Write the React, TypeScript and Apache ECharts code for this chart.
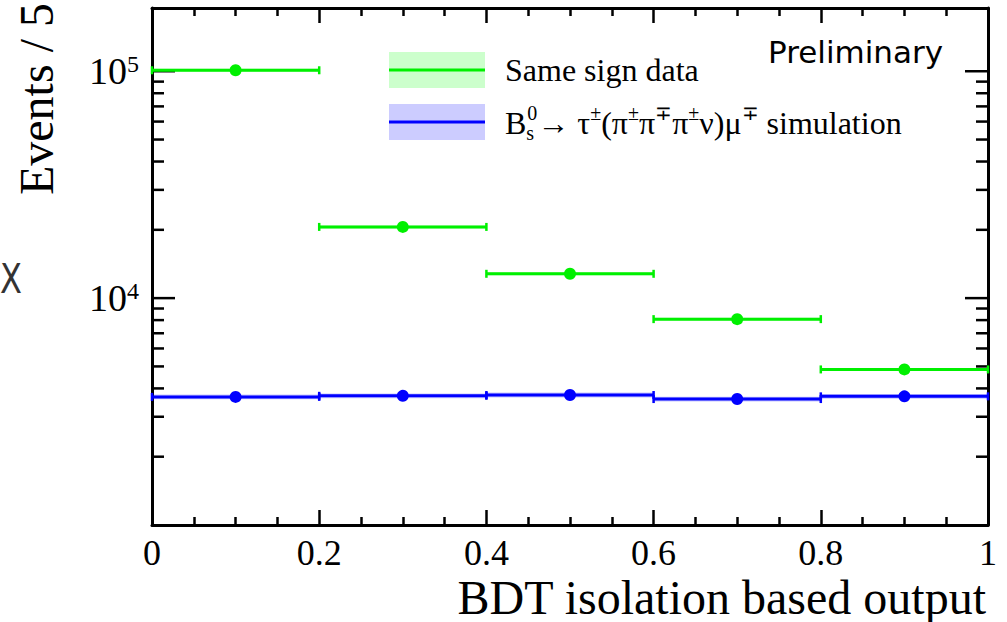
import React, { useEffect, useRef } from 'react';
import * as echarts from 'echarts';

// Histogram binning in BDT output
const BIN_EDGES = [0, 0.2, 0.4, 0.6, 0.8, 1.0];
const BIN_CENTERS = [0.1, 0.3, 0.5, 0.7, 0.9];

// Events per bin
const SAME_SIGN_DATA = [101000, 20600, 12800, 8080, 4850];
const SIMULATION = [3670, 3710, 3740, 3590, 3690];

// Axis ticks and labels
const X_TICK_LABELS = ['0', '0.2', '0.4', '0.6', '0.8', '1'];
const Y_MAJOR_TICKS = [1e4, 1e5];
const Y_MINOR_TICKS = [
  2e3, 3e3, 4e3, 5e3, 6e3, 7e3, 8e3, 9e3,
  2e4, 3e4, 4e4, 5e4, 6e4, 7e4, 8e4, 9e4,
];
const Y_MIN = 1000;
const Y_MAX = 190000;

const GREEN = '#00f000';
const BLUE = '#0000ff';
const SERIF = "'Liberation Serif', 'Times New Roman', serif";
const SANS = "'DejaVu Sans', sans-serif";

function binRows(values: number[]) {
  return values.map((v, i) => [BIN_EDGES[i], BIN_EDGES[i + 1], v]);
}

function makeBinRenderer(color: string, halo: string, haloFrac: number) {
  return (_params: any, api: any) => {
    const lo = api.value(0);
    const hi = api.value(1);
    const v = api.value(2);
    const a = api.coord([lo, v]);
    const b = api.coord([hi, v]);
    const top = api.coord([lo, v * (1 + haloFrac)])[1];
    const bot = api.coord([lo, v / (1 + haloFrac)])[1];
    const cap = 4;
    return {
      type: 'group',
      children: [
        {
          type: 'rect',
          shape: { x: a[0], y: top, width: b[0] - a[0], height: bot - top },
          style: { fill: halo },
        },
        {
          type: 'line',
          shape: { x1: a[0], y1: a[1], x2: b[0], y2: b[1] },
          style: { stroke: color, lineWidth: 3 },
        },
        {
          type: 'line',
          shape: { x1: a[0], y1: a[1] - cap, x2: a[0], y2: a[1] + cap },
          style: { stroke: color, lineWidth: 2.5 },
        },
        {
          type: 'line',
          shape: { x1: b[0], y1: b[1] - cap, x2: b[0], y2: b[1] + cap },
          style: { stroke: color, lineWidth: 2.5 },
        },
      ],
    };
  };
}

function yTickRenderer(_params: any, api: any) {
  const v = api.value(1);
  const major = api.value(2) === 1;
  const len = major ? 23 : 12;
  const l = api.coord([0, v]);
  const r = api.coord([1, v]);
  return {
    type: 'group',
    children: [
      {
        type: 'line',
        shape: { x1: l[0], y1: l[1], x2: l[0] + len, y2: l[1] },
        style: { stroke: '#000', lineWidth: 2.5 },
      },
      {
        type: 'line',
        shape: { x1: r[0] - len, y1: r[1], x2: r[0], y2: r[1] },
        style: { stroke: '#000', lineWidth: 2.5 },
      },
    ],
  };
}

function xAxisConfig(position: 'bottom' | 'top', showLabels: boolean) {
  return {
    type: 'value',
    position,
    min: 0,
    max: 1,
    interval: 0.2,
    axisLine: { show: true, onZero: false, lineStyle: { color: '#000', width: 3 } },
    axisTick: { show: true, inside: true, length: 15, lineStyle: { color: '#000', width: 2.5 } },
    minorTick: { show: true, splitNumber: 4, length: 8, lineStyle: { color: '#000', width: 2.5 } },
    splitLine: { show: false },
    axisLabel: {
      show: showLabels,
      margin: 10,
      color: '#000',
      fontFamily: SERIF,
      fontSize: 36,
      formatter: (v: number) => X_TICK_LABELS[Math.round(v / 0.2)] ?? '',
    },
  };
}

function yAxisConfig(position: 'left' | 'right', showLabels: boolean) {
  return {
    type: 'log',
    logBase: 10,
    position,
    min: Y_MIN,
    max: Y_MAX,
    axisLine: { show: true, onZero: false, lineStyle: { color: '#000', width: 3 } },
    axisTick: { show: false },
    splitLine: { show: false },
    axisLabel: {
      show: showLabels,
      margin: 13,
      formatter: (v: number) => {
        const hit = Y_MAJOR_TICKS.find((t) => Math.abs(t - v) / t < 1e-6);
        if (!hit) return '';
        return `{b|10}{s|${Math.round(Math.log10(hit))}}`;
      },
      rich: {
        b: {
          fontFamily: SERIF,
          fontSize: 38,
          color: '#000',
          lineHeight: 38,
          verticalAlign: 'bottom',
          padding: [8, 0, 0, 0],
        },
        s: {
          fontFamily: SERIF,
          fontSize: 24,
          color: '#000',
          lineHeight: 24,
          verticalAlign: 'top',
        },
      },
    },
  };
}

const legendRich = {
  m: { fontFamily: SERIF, fontSize: 32, fill: '#000', lineHeight: 40 },
  sp: { fontFamily: SERIF, fontSize: 20, fill: '#000', lineHeight: 20, verticalAlign: 'top' },
  sb: { fontFamily: SERIF, fontSize: 20, fill: '#000', lineHeight: 20, verticalAlign: 'bottom', width: 1 },
};

export default function App() {
  const ref = useRef<HTMLDivElement>(null);

  useEffect(() => {
    if (!ref.current) return;
    const chart = echarts.init(ref.current, undefined, { renderer: 'svg' });

    const yTickData = [
      ...Y_MAJOR_TICKS.map((v) => [0, v, 1]),
      ...Y_MINOR_TICKS.map((v) => [0, v, 0]),
    ];

    chart.setOption({
      animation: false,
      backgroundColor: '#fff',
      grid: { left: 152, right: 19, top: 8, bottom: 97, containLabel: false },
      xAxis: [xAxisConfig('bottom', true), xAxisConfig('top', false)],
      yAxis: [yAxisConfig('left', true), yAxisConfig('right', false)],
      series: [
        {
          name: 'y ticks',
          type: 'custom',
          xAxisIndex: 0,
          yAxisIndex: 0,
          silent: true,
          clip: false,
          encode: { x: 0, y: 1 },
          data: yTickData,
          renderItem: yTickRenderer,
          z: 1,
        },
        {
          name: 'simulation bins',
          type: 'custom',
          silent: true,
          encode: { x: [0, 1], y: 2 },
          data: binRows(SIMULATION),
          renderItem: makeBinRenderer(BLUE, 'rgba(0,0,255,0.22)', 0.025),
          z: 2,
        },
        {
          name: 'same sign bins',
          type: 'custom',
          silent: true,
          encode: { x: [0, 1], y: 2 },
          data: binRows(SAME_SIGN_DATA),
          renderItem: makeBinRenderer(GREEN, 'rgba(0,240,0,0.22)', 0.015),
          z: 2,
        },
        {
          name: 'simulation',
          type: 'scatter',
          symbol: 'circle',
          symbolSize: 12,
          silent: true,
          itemStyle: { color: BLUE, opacity: 1 },
          data: BIN_CENTERS.map((x, i) => [x, SIMULATION[i]]),
          z: 3,
        },
        {
          name: 'same sign data',
          type: 'scatter',
          symbol: 'circle',
          symbolSize: 12,
          silent: true,
          itemStyle: { color: GREEN, opacity: 1 },
          data: BIN_CENTERS.map((x, i) => [x, SAME_SIGN_DATA[i]]),
          z: 3,
        },
      ],
      graphic: [
        // legend entries: error band with central line
        { type: 'rect', shape: { x: 389, y: 52, width: 96, height: 36 }, style: { fill: '#ccffcc' }, z: 10 },
        { type: 'line', shape: { x1: 389, y1: 70, x2: 485, y2: 70 }, style: { stroke: GREEN, lineWidth: 3 }, z: 11 },
        { type: 'rect', shape: { x: 389, y: 104, width: 96, height: 36 }, style: { fill: '#ccccff' }, z: 10 },
        { type: 'line', shape: { x1: 389, y1: 122, x2: 485, y2: 122 }, style: { stroke: BLUE, lineWidth: 3 }, z: 11 },
        {
          type: 'text',
          x: 505,
          y: 70,
          z: 11,
          style: {
            text: 'Same sign data',
            fontFamily: SERIF,
            fontSize: 32,
            fill: '#000',
            verticalAlign: 'middle',
          },
        },
        {
          type: 'text',
          x: 505,
          y: 123,
          z: 11,
          style: {
            text:
              '{m|B}{sb|s}{sp|0}{m|→ τ}{sp|±}{m|(π}{sp|±}{m|π}{sp|∓}{m|π}{sp|±}{m|ν)μ}{sp|∓}{m| simulation}',
            verticalAlign: 'middle',
            rich: legendRich,
          },
        },
        {
          type: 'text',
          x: 768,
          y: 52,
          z: 11,
          style: {
            text: 'Preliminary',
            fontFamily: SANS,
            fontSize: 31,
            fill: '#000',
            verticalAlign: 'middle',
          },
        },
        {
          type: 'text',
          x: 36,
          y: 195,
          rotation: Math.PI / 2,
          z: 11,
          style: {
            text: 'Events / 5',
            fontFamily: SERIF,
            fontSize: 48,
            fill: '#000',
            align: 'left',
            verticalAlign: 'middle',
          },
        },
        {
          type: 'text',
          x: 986,
          y: 597,
          z: 11,
          style: {
            text: 'BDT isolation based output',
            fontFamily: SERIF,
            fontSize: 48,
            fill: '#000',
            align: 'right',
            verticalAlign: 'middle',
          },
        },
        {
          type: 'text',
          x: 0,
          y: 279,
          scaleX: 0.8,
          z: 11,
          style: {
            text: 'X',
            fontFamily: SANS,
            fontSize: 40,
            fill: '#333',
            align: 'left',
            verticalAlign: 'middle',
          },
        },
      ],
    });

    return () => chart.dispose();
  }, []);

  return (
    <div
      ref={ref}
      style={{ position: 'absolute', left: 0, top: 0, width: 1007, height: 622, background: '#fff' }}
    />
  );
}
